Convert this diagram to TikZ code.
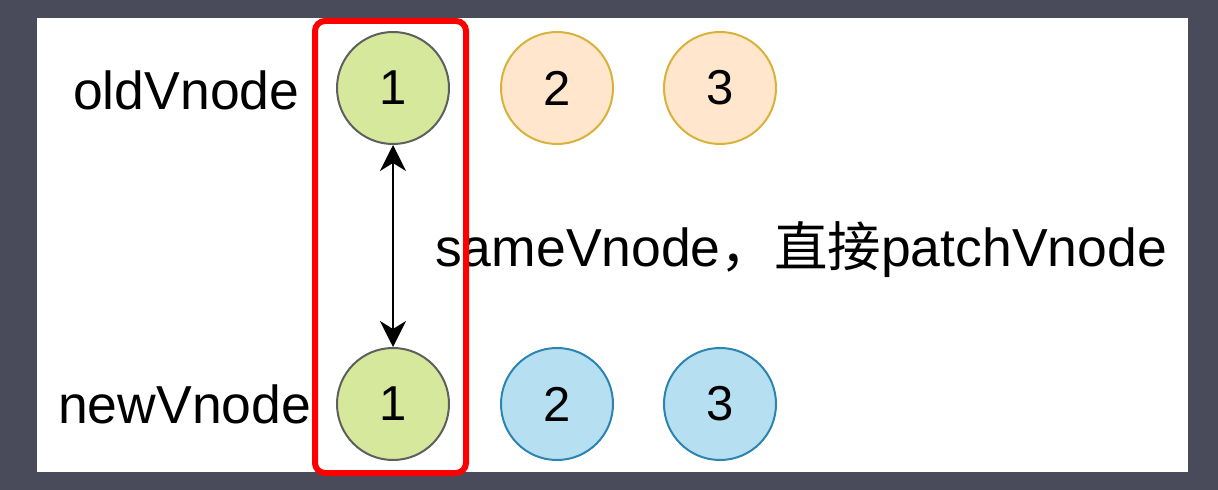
\documentclass[tikz,border=0pt]{standalone}
\usepackage{fontspec}
\setmainfont{Liberation Sans}
\newfontfamily\cjk{Noto Sans CJK SC}
\usetikzlibrary{arrows.meta}
\definecolor{bgdark}{HTML}{4A4B5A}
\definecolor{greenfill}{HTML}{D5E89B}
\definecolor{greenline}{HTML}{5F5F5F}
\definecolor{orangefill}{HTML}{FFE6CC}
\definecolor{orangeline}{HTML}{D9B23C}
\definecolor{bluefill}{HTML}{B7DFF2}
\definecolor{blueline}{HTML}{2B85B0}
\definecolor{hlred}{HTML}{FF0000}
\begin{document}
\begin{tikzpicture}[x=1bp,y=-1bp,
  vn/.style={circle, minimum size=112bp, inner sep=0pt, line width=2bp,
    font=\fontsize{49bp}{56bp}\selectfont},
  gnode/.style={vn, fill=greenfill, draw=greenline},
  onode/.style={vn, fill=orangefill, draw=orangeline},
  bnode/.style={vn, fill=bluefill, draw=blueline},
  lbl/.style={inner sep=0pt, anchor=base west, font=\fontsize{53.5bp}{60bp}\selectfont},
  redbox/.style={draw=hlred, line width=6bp, rounded corners=10bp, inner sep=0pt}
]
\fill[bgdark] (0,0) rectangle (1218,490);
\fill[white] (37,18) rectangle (1188,472);
\useasboundingbox (0,0) rectangle (1218,490);

\node[lbl] (oldlbl) at (73,110) {oldVnode};
\node[lbl] (newlbl) at (58,423) {newVnode};

\node[gnode] (o1) at (393,88) {1};
\node[onode] (o2) at (557,88) {2};
\node[onode] (o3) at (720,88) {3};

\node[gnode] (n1) at (393,404) {1};
\node[bnode] (n2) at (557,404) {2};
\node[bnode] (n3) at (720,404) {3};

\draw[line width=2bp, {Stealth[length=26bp,width=26bp,inset=8bp]}-{Stealth[length=26bp,width=26bp,inset=8bp]}] (o1) -- (n1);

\node[lbl] (msg) at (435,267) {sameVnode{\cjk ，直接}patchVnode};

\node[redbox, minimum width=151bp, minimum height=452bp] (hl) at (390.5,247) {};
\end{tikzpicture}
\end{document}
